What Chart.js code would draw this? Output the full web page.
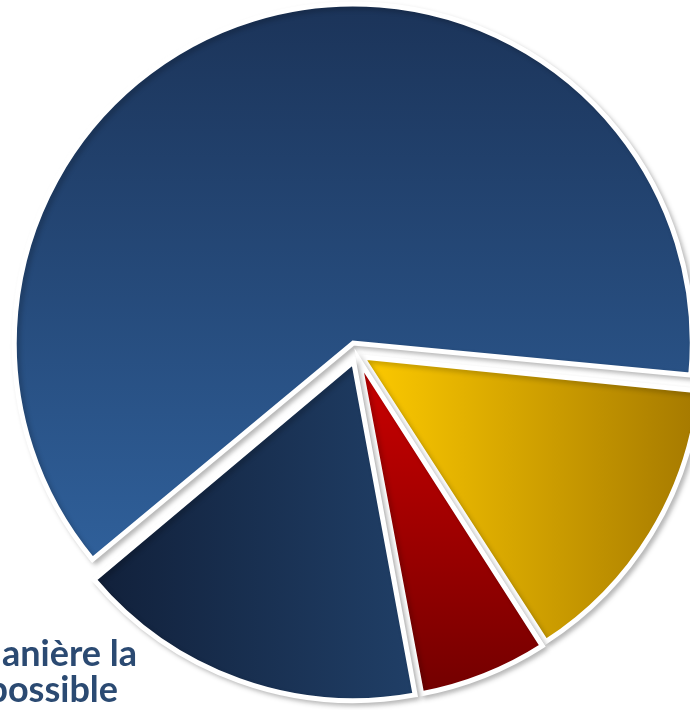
<!DOCTYPE html>
<html>
<head>
<meta charset="utf-8">
<script src="https://cdn.jsdelivr.net/npm/chart.js@4.4.1/dist/chart.umd.min.js"></script>
<style>
  html, body { margin: 0; padding: 0; background: #ffffff; overflow: hidden; }
  #wrap { width: 690px; height: 710px; }
</style>
</head>
<body>
<div id="wrap"><canvas id="pieChart" width="690" height="710"></canvas></div>
<script>
"use strict";
// data (share of the pie, %)
var labels = ['Bleu', 'Jaune', 'Rouge', 'Marine'];
var values = [62.7, 14.3, 6.2, 16.8];
// explosion of each slice (chart.js moves an arc by offset/4 px)
var offsets = [44, 26, 30, 34];
// partly cropped label at the bottom left
var labelLines = ['manière la', 'possible'];

function sliceColor(context) {
    var chart = context.chart;
    var area = chart.chartArea;
    if (!area) return '#2a5185';
    var ctx = chart.ctx;
    var g;
    switch (context.dataIndex) {
        case 0:
            g = ctx.createLinearGradient(0, 5, 0, 560);
            g.addColorStop(0, '#1b3358');
            g.addColorStop(1, '#2f5f99');
            return g;
        case 1:
            g = ctx.createLinearGradient(365, 0, 690, 0);
            g.addColorStop(0, '#fbc800');
            g.addColorStop(1, '#a67a00');
            return g;
        case 2:
            g = ctx.createLinearGradient(0, 372, 0, 690);
            g.addColorStop(0, '#c80000');
            g.addColorStop(1, '#720000');
            return g;
        default:
            g = ctx.createLinearGradient(95, 0, 420, 0);
            g.addColorStop(0, '#11203a');
            g.addColorStop(1, '#203f67');
            return g;
    }
}

// chart.js also grows an offset arc's radius; take that back so
// exploded slices keep the same size as in the picture
var explodePlugin = {
    id: 'explode',
    afterDatasetsUpdate: function(chart) {
        var meta = chart.getDatasetMeta(0);
        meta.data.forEach(function(arc, i) {
            var off = (offsets[i] || 0) / 4;
            var fix = 1 - Math.sin(Math.min(Math.PI, arc.circumference || 0));
            arc.outerRadius = arc.outerRadius - off * fix;
        });
    }
};

var shadowPlugin = {
    id: 'shadow',
    beforeDatasetsDraw: function(chart) {
        var ctx = chart.ctx;
        ctx.save();
        ctx.shadowColor = 'rgba(0,0,0,0.22)';
        ctx.shadowBlur = 5;
        ctx.shadowOffsetX = 3;
        ctx.shadowOffsetY = 3;
    },
    afterDatasetsDraw: function(chart) {
        chart.ctx.restore();
    }
};

var labelPlugin = {
    id: 'cutLabel',
    afterDraw: function(chart) {
        var ctx = chart.ctx;
        ctx.save();
        ctx.font = 'bold 36px Lato, "Open Sans", sans-serif';
        ctx.fillStyle = '#2b4a72';
        ctx.textAlign = 'right';
        ctx.textBaseline = 'alphabetic';
        ctx.fillText(labelLines[0], 137, 666);
        ctx.fillText(labelLines[1], 118, 702);
        ctx.restore();
    }
};

var pie = document.getElementById('pieChart').getContext('2d');
var myPie = new Chart(pie, {
    type: 'pie',
    data: {
        labels: labels,
        datasets: [{
            data: values,
            backgroundColor: sliceColor,
            borderColor: '#ffffff',
            borderWidth: 5,
            borderJoinStyle: 'miter',
            offset: offsets
        }]
    },
    options: {
        responsive: false,
        animation: false,
        rotation: 230,
        radius: 339,
        layout: { padding: { left: 23, top: 0, right: 0, bottom: 3 } },
        plugins: {
            legend: { display: false },
            tooltip: { enabled: false }
        },
        events: []
    },
    plugins: [explodePlugin, shadowPlugin, labelPlugin]
});
</script>
</body>
</html>
